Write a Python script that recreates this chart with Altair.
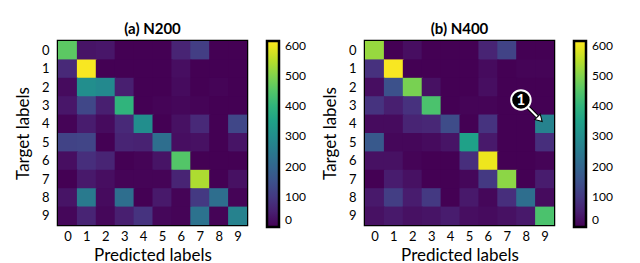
import altair as alt
import pandas as pd

labels = list(range(10))

# rows = target label, columns = predicted label
n200 = [
    [460, 30, 35, 0, 0, 0, 60, 110, 0, 0],
    [70, 610, 0, 0, 0, 0, 20, 0, 0, 0],
    [15, 300, 290, 50, 0, 0, 15, 0, 5, 0],
    [35, 130, 50, 400, 0, 5, 10, 5, 0, 0],
    [5, 45, 15, 70, 300, 0, 25, 70, 0, 130],
    [120, 125, 0, 60, 55, 220, 20, 25, 0, 30],
    [20, 80, 60, 0, 5, 30, 450, 0, 0, 0],
    [0, 40, 20, 5, 5, 5, 60, 540, 0, 25],
    [30, 250, 15, 220, 0, 40, 5, 100, 220, 5],
    [10, 60, 10, 50, 90, 10, 5, 230, 5, 270],
]

n400 = [
    [520, 0, 20, 0, 0, 0, 60, 120, 0, 0],
    [85, 610, 0, 0, 0, 0, 15, 0, 5, 5],
    [20, 150, 490, 25, 0, 0, 20, 0, 0, 0],
    [90, 50, 85, 440, 0, 5, 5, 0, 0, 0],
    [15, 15, 60, 65, 140, 0, 90, 0, 0, 270],
    [170, 10, 10, 15, 30, 350, 40, 0, 0, 80],
    [25, 25, 5, 0, 0, 80, 600, 0, 0, 5],
    [0, 45, 25, 0, 0, 10, 100, 510, 0, 45],
    [40, 110, 45, 100, 0, 40, 10, 80, 220, 15],
    [25, 40, 25, 30, 45, 20, 15, 25, 40, 440],
]

titles = ["(a) N200", "(b) N400"]
colorbar_ticks = [0, 100, 200, 300, 400, 500, 600]

# annotation "1" in panel (b): marker position and arrow, in cell units
note_text = ["1"]
note_x = [7.75]
note_y = [2.7]
arrow_x = [8.12]
arrow_y = [3.1]
arrow_x2 = [8.75]
arrow_y2 = [3.75]

FONT = "Lato"
W, H = 189, 184


def frame(mat):
    rows = []
    for t in labels:
        for p in labels:
            rows.append({"target": t, "pred": p, "count": mat[t][p]})
    return pd.DataFrame(rows)


XS = alt.Scale(domain=[-0.5, 9.5], nice=False, zero=False)
YS = alt.Scale(domain=[-0.5, 9.5], nice=False, zero=False, reverse=True)
XAX = alt.Axis(values=labels, format="d", title="Predicted labels",
               titlePadding=4, labelPadding=5, labelOverlap=False)
YAX = alt.Axis(values=labels, format="d", title="Target labels",
               titlePadding=9, labelPadding=9, labelOverlap=False)


def xq(field):
    return alt.X(field, scale=XS, axis=XAX)


def yq(field):
    return alt.Y(field, scale=YS, axis=YAX)


def panel(mat, title, with_note=False):
    base = alt.Chart(frame(mat)).transform_calculate(
        x0="datum.pred - 0.5", x1="datum.pred + 0.56",
        y0="datum.target - 0.5", y1="datum.target + 0.56",
    )
    cscale = alt.Scale(scheme="viridis", domain=[0, 615], nice=False)
    heat = base.mark_rect(clip=True).encode(
        x=xq("x0:Q"), x2="x1:Q",
        y=yq("y0:Q"), y2="y1:Q",
        color=alt.Color(
            "count:Q",
            scale=cscale,
            legend=alt.Legend(
                type="gradient", title=None, values=colorbar_ticks,
                gradientLength=H + 2, gradientThickness=12,
                gradientStrokeColor="black", gradientStrokeWidth=2.5,
                labelFontSize=12, labelFont=FONT, labelColor="black",
                offset=20, labelOffset=6,
            ),
        ),
    )
    layers = [heat]
    if with_note:
        arr = pd.DataFrame({"x": arrow_x, "y": arrow_y, "x2": arrow_x2, "y2": arrow_y2})
        for sw, col in [(4, "black"), (2, "white")]:
            layers.append(
                alt.Chart(arr).mark_rule(strokeWidth=sw, color=col).encode(
                    x=xq("x:Q"), y=yq("y:Q"), x2="x2:Q", y2="y2:Q")
            )
        layers.append(
            alt.Chart(arr).mark_point(shape="triangle-up", angle=135, size=60,
                                      filled=True, color="white", stroke="black",
                                      strokeWidth=1, opacity=1).encode(
                x=xq("x2:Q"), y=yq("y2:Q"))
        )
        note = pd.DataFrame({"x": note_x, "y": note_y, "t": note_text})
        layers.append(
            alt.Chart(note).mark_point(shape="circle", size=380, filled=True,
                                       color="black", stroke="white", strokeWidth=2,
                                       opacity=1).encode(
                x=xq("x:Q"), y=yq("y:Q"))
        )
        layers.append(
            alt.Chart(note).mark_text(color="white", fontSize=15, fontWeight="bold",
                                      font=FONT, baseline="middle", align="center").encode(
                x=xq("x:Q"), y=yq("y:Q"), text="t:N")
        )
    return alt.layer(*layers).properties(
        width=W, height=H,
        title=alt.TitleParams(title, fontSize=15, fontWeight="bold", font=FONT,
                              color="black", offset=4),
    )


chart = alt.hconcat(
    panel(n200, titles[0]),
    panel(n400, titles[1], with_note=True),
    spacing=12,
).resolve_scale(color="independent").resolve_legend(
    color="independent"
).configure(
    background="white", padding={"left": 5, "top": 12, "right": 0, "bottom": 0}
).configure_view(
    stroke="black", strokeWidth=2.5
).configure_axis(
    grid=False, ticks=False, domain=False, labelFontSize=13, titleFontSize=17,
    labelFont=FONT, titleFont=FONT, labelColor="black", titleColor="black",
    titleFontWeight="normal",
)

chart.save("out.html", embed_options={"renderer": "svg", "actions": False})
